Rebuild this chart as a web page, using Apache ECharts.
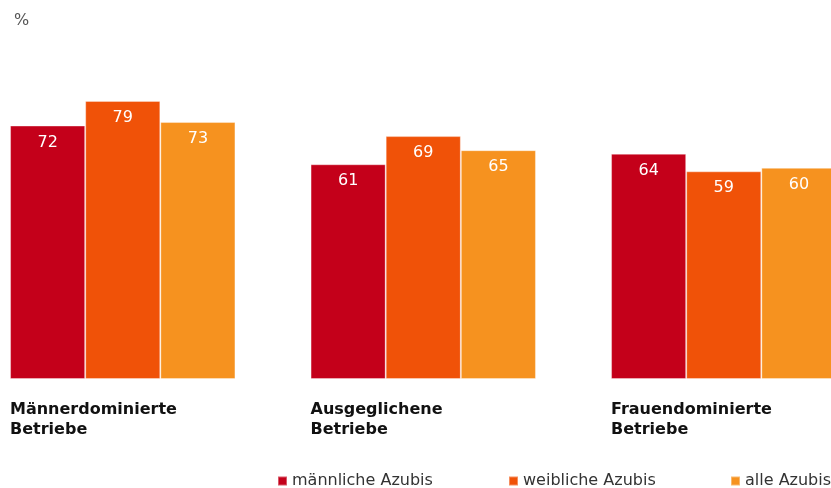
<!DOCTYPE html>
<html>
<head>
<meta charset="utf-8">
<script src="https://cdn.jsdelivr.net/npm/echarts@6/dist/echarts.min.js"></script>
<style>
  html, body { margin: 0; padding: 0; background: #fff; }
  #chart { width: 831px; height: 488px; }
</style>
</head>
<body>
<div id="chart"></div>
<script>
const categories = ['Männerdominierte Betriebe', 'Ausgeglichene Betriebe', 'Frauendominierte Betriebe'];
const seriesNames = ['männliche Azubis', 'weibliche Azubis', 'alle Azubis'];
const maleValues = [72, 61, 64];
const femaleValues = [79, 69, 59];
const allValues = [73, 65, 60];
const unitLabel = '%';

const colors = ['#C4001A', '#F05208', '#F6921F'];
const FONT = 'DejaVu Sans';
const valueSets = [maleValues, femaleValues, allValues];

const chart = echarts.init(document.getElementById('chart'), null, { renderer: 'canvas' });

const legendLefts = [272, 503, 725];

const option = {
  animation: false,
  backgroundColor: '#ffffff',
  title: {
    text: unitLabel,
    left: 9,
    top: 8,
    textStyle: { fontFamily: FONT, fontSize: 16, fontWeight: 'normal', color: '#555555' }
  },
  legend: seriesNames.map((n, i) => ({
    data: [n],
    left: legendLefts[i],
    top: 468,
    orient: 'horizontal',
    icon: 'rect',
    itemWidth: 9,
    itemHeight: 9,
    textStyle: { fontFamily: FONT, fontSize: 16, color: '#333333', lineHeight: 16 }
  })),
  grid: {
    left: -27.5,
    width: 901.5,
    top: 27,
    bottom: 109,
    containLabel: false,
    outerBoundsMode: 'none'
  },
  xAxis: {
    type: 'category',
    data: categories,
    axisLine: { show: false },
    axisTick: { show: false },
    axisLabel: {
      interval: 0,
      margin: 21,
      formatter: function (v) {
        return v.split(' ').map(p => '{a|' + p + '}').join('\n');
      },
      rich: {
        a: {
          width: 225.5,
          align: 'left',
          fontFamily: FONT,
          fontSize: 16,
          fontWeight: 'bold',
          lineHeight: 20,
          color: '#111111'
        }
      }
    }
  },
  yAxis: {
    type: 'value',
    min: 0,
    max: 100,
    show: false,
    splitLine: { show: false }
  },
  series: seriesNames.map((n, i) => ({
    name: n,
    type: 'bar',
    data: valueSets[i],
    barGap: '0%',
    barCategoryGap: '25%',
    itemStyle: {
      color: colors[i],
      borderColor: 'rgba(255,255,255,0.35)',
      borderWidth: 1
    },
    label: {
      show: true,
      position: 'insideTop',
      distance: 9,
      color: '#ffffff',
      fontFamily: FONT,
      fontSize: 16
    }
  }))
};

chart.setOption(option);
</script>
</body>
</html>
